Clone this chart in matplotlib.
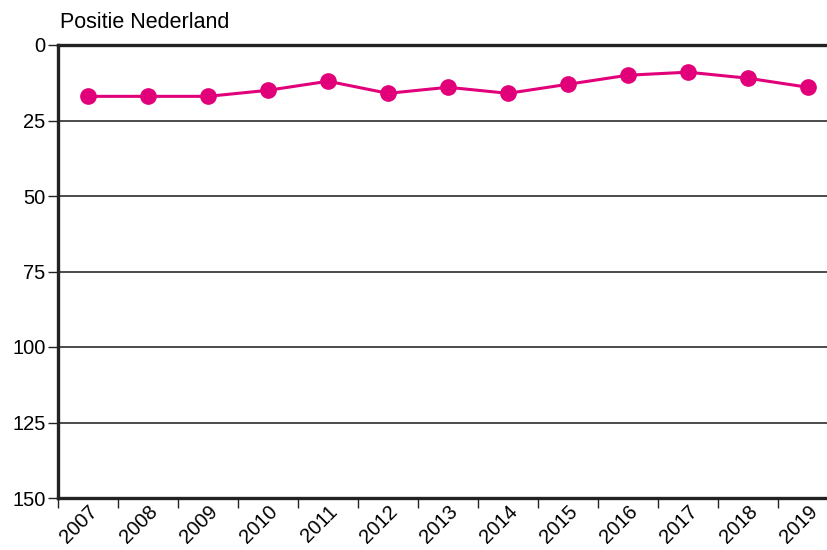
import numpy as np
import matplotlib.pyplot as plt
from matplotlib.ticker import FixedLocator

plt.rcParams['font.family'] = ['Liberation Sans', 'DejaVu Sans']

jaren = ['2007', '2008', '2009', '2010', '2011', '2012', '2013',
         '2014', '2015', '2016', '2017', '2018', '2019']
positie = [17, 17, 17, 15, 12, 16, 14, 16, 13, 10, 9, 11, 14]
yticks = [0, 25, 50, 75, 100, 125, 150]

kleur = '#E2007A'

fig = plt.figure(figsize=(8.27, 5.5), dpi=100)
# de as loopt rechts over de rand van het plaatje heen
ax = fig.add_axes([58/827, 52/550, 780/827, 453/550])

x = np.arange(len(jaren))
ax.plot(x, positie, color=kleur, lw=2.2, marker='o', ms=11, zorder=3, clip_on=False)

ax.set_xlim(-0.5, len(jaren) - 0.5)
ax.set_ylim(150, 0)
ax.set_yticks(yticks)
ax.set_yticklabels([str(v) for v in yticks], fontsize=14.5)
for v in yticks[1:-1]:
    ax.axhline(v, color='#1a1a1a', lw=1.1, zorder=1)

# tickstreepjes op de grenzen, labels in het midden
ax.xaxis.set_major_locator(FixedLocator(np.arange(-0.5, len(jaren), 1.0)))
ax.xaxis.set_major_formatter(plt.NullFormatter())
ax.xaxis.set_minor_locator(FixedLocator(x))
ax.set_xticklabels(jaren, minor=True, rotation=45, ha='right',
                   rotation_mode='anchor', fontsize=14.5)
ax.tick_params(axis='x', which='major', length=7, width=1, color='#222222', direction='out')
ax.tick_params(axis='x', which='minor', length=0, pad=3)
ax.tick_params(axis='y', length=7, width=1, color='#222222', pad=2)

for s in ['left', 'top', 'bottom']:
    ax.spines[s].set_linewidth(2.4)
    ax.spines[s].set_color('#222222')
ax.spines['right'].set_visible(False)

fig.text(60/827, 1 - 22/550, 'Positie Nederland', fontsize=15.5, va='center', ha='left')

fig.savefig('out.png', dpi=100)
